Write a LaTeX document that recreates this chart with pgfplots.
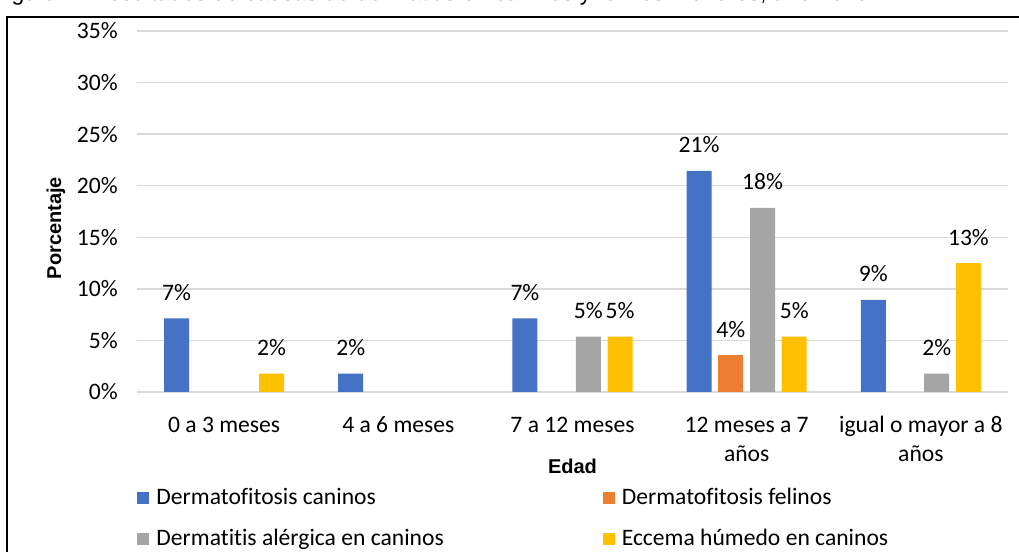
\documentclass[border=0pt]{standalone}
\usepackage{fontspec}
\setmainfont{Carlito}[Ligatures=NoCommon]
\newfontfamily\arial{Liberation Sans}
\usepackage{pgfplots}
\pgfplotsset{compat=1.18}
\definecolor{cBlue}{HTML}{4472C4}
\definecolor{cOrange}{HTML}{ED7D31}
\definecolor{cGray}{HTML}{A5A5A5}
\definecolor{cYellow}{HTML}{FFC000}
\definecolor{cGrid}{HTML}{D9D9D9}
\newcommand{\R}{\rule{0pt}{9pt}}
\begin{document}
\begin{tikzpicture}
\useasboundingbox (0,0) rectangle (509.5pt,276pt);
\begin{scope}
\clip (0,269pt) rectangle (509.5pt,276pt);
\node[anchor=base west, inner sep=0pt, font=\arial\fontsize{11.5}{13}\selectfont] at (-4pt,275.5pt) {Figura 1. Resultados de causas de dermatitis en caninos y felinos menores, año 2019};
\end{scope}
\draw[line width=0.8pt] (3.5pt,0) -- (3.5pt,267.5pt) -- (509.5pt,267.5pt);
\begin{axis}[
  at={(68.5pt,80pt)}, anchor=south west,
  scale only axis, width=435.5pt, height=180.5pt,
  ybar=3.35pt, bar width=12.5pt,
  xmin=-0.5, xmax=4.5, ymin=0, ymax=35,
  xtick={0,1,2,3,4},
  xticklabels={\R 0 a 3 meses, \R 4 a 6 meses, \R 7 a 12 meses, {\R 12 meses a 7\\años}, {\R igual o mayor a 8\\años}},
  ytick={0,5,10,15,20,25,30,35},
  yticklabels={0\%,5\%,10\%,15\%,20\%,25\%,30\%,35\%},
  major tick length=0pt,
  axis line style={draw=none},
  ymajorgrids, grid style={draw=cGrid, line width=0.75pt},
  tick label style={font=\fontsize{11.8}{14.5}\selectfont},
  yticklabel style={anchor=east, xshift=-6.1pt},
  xticklabel style={align=center, anchor=north, inner sep=0pt, yshift=-11pt},
  xlabel={\arial\bfseries Edad},
  ylabel={\arial\bfseries Porcentaje},
  xlabel style={font=\fontsize{10}{12}\selectfont, at={(axis description cs:0.5,-0.227)}, anchor=base},
  ylabel style={font=\fontsize{10}{12}\selectfont, at={(axis description cs:-0.093,0.454)}, anchor=center},
  point meta=explicit symbolic,
  nodes near coords,
  every node near coord/.append style={font=\fontsize{11.8}{14}\selectfont, anchor=base, yshift=9pt, inner sep=0pt, black},
  legend columns=2,
  legend cell align=left,
  legend image code/.code={\fill[#1,draw=none] (0pt,-3pt) rectangle (6pt,3pt);},
  legend style={at={(axis description cs:0.0,-0.255)}, anchor=north west, draw=none, fill=none,
    font=\fontsize{11.8}{14}\selectfont, inner sep=0pt, row sep=6.5pt,
    /tikz/every even column/.append style={column sep=77.5pt},
    /tikz/every odd column/.append style={column sep=1.5pt}},
]
\addplot[fill=cBlue, draw=none] coordinates {(0,7.14)[7\%] (1,1.79)[2\%] (2,7.14)[7\%] (3,21.43)[21\%] (4,8.93)[9\%]};
\addplot[fill=cOrange, draw=none] coordinates {(3,3.57)[4\%]};
\addplot[fill=cGray, draw=none] coordinates {(2,5.36)[5\%] (3,17.86)[18\%] (4,1.79)[2\%]};
\addplot[fill=cYellow, draw=none] coordinates {(0,1.79)[2\%] (2,5.36)[5\%] (3,5.36)[5\%] (4,12.5)[13\%]};
\legend{Dermatofitosis caninos, Dermatofitosis felinos, Dermatitis alérgica en caninos, Eccema húmedo en caninos}
\end{axis}
\end{tikzpicture}
\end{document}
